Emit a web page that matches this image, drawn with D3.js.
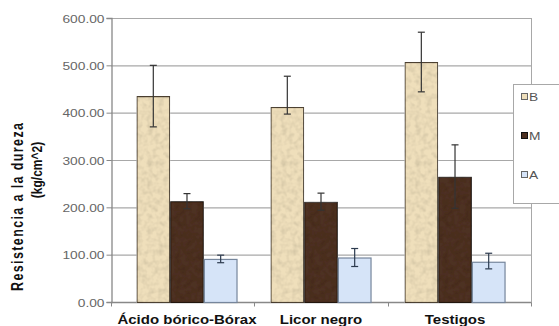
<!DOCTYPE html>
<html>
<head>
<meta charset="utf-8">
<script src="https://cdn.jsdelivr.net/npm/d3@7"></script>
<style>
  body { margin: 0; background: #fff; }
  svg { display: block; font-family: "Liberation Sans", Arial, sans-serif; }
</style>
</head>
<body>
<div id="chart"></div>
<script>
// data
const categories = ["Ácido bórico-Bórax", "Licor negro", "Testigos"]
const seriesNames = ["B", "M", "A"]
const valuesB = [435, 412, 507]
const valuesM = [213, 212, 265]
const valuesA = [91, 94, 85]
const errHighB = [500, 477, 570]
const errLowB = [370, 397, 444]
const errHighM = [229, 230, 332]
const errLowM = [197, 194, 198]
const errHighA = [99, 113, 103]
const errLowA = [83, 75, 70]
const yTicks = [0, 100, 200, 300, 400, 500, 600]

const width = 559, height = 326
const plot = {left: 111, right: 531, top: 18, bottom: 302}
const SX = 1.25 // the picture is stretched sideways, text too

const series = {
  B: {values: valuesB, hi: errHighB, lo: errLowB, fill: "#efdfbb", stroke: "#4e4232", tex: true},
  M: {values: valuesM, hi: errHighM, lo: errLowM, fill: "#4d3020", stroke: "#221408", tex: true},
  A: {values: valuesA, hi: errHighA, lo: errLowA, fill: "#d6e4f8", stroke: "#76869c", tex: false}
}

const svg = d3.select('#chart').append('svg')
    .attr('width', width)
    .attr('height', height)

// paper-like texture for the bars
const filt = svg.append('defs').append('filter')
    .attr('id', 'tex')
filt.append('feTurbulence')
    .attr('type', 'fractalNoise')
    .attr('baseFrequency', 0.18)
    .attr('numOctaves', 2)
    .attr('seed', 4)
    .attr('result', 'n')
filt.append('feColorMatrix')
    .attr('in', 'n')
    .attr('type', 'matrix')
    .attr('values', '0.45 0 0 0 0.72  0.45 0 0 0 0.72  0.45 0 0 0 0.72  0 0 0 0 1')
    .attr('result', 'g')
filt.append('feBlend')
    .attr('in', 'SourceGraphic')
    .attr('in2', 'g')
    .attr('mode', 'multiply')
    .attr('result', 'b')
filt.append('feComposite')
    .attr('in', 'b')
    .attr('in2', 'SourceGraphic')
    .attr('operator', 'in')

const y = d3.scaleLinear()
    .domain([0, 600])
    .range([plot.bottom, plot.top])

const x0 = d3.scaleBand()
    .domain(categories)
    .range([plot.left, plot.right])
    .paddingInner(0.246)
    .paddingOuter(0.19)

const x1 = d3.scaleBand()
    .domain(seriesNames)
    .range([0, x0.bandwidth()])

// gridlines
svg.append('g')
    .selectAll('line')
    .data(yTicks)
    .join('line')
    .attr('x1', plot.left)
    .attr('x2', plot.right)
    .attr('y1', d => y(d) + 0.5)
    .attr('y2', d => y(d) + 0.5)
    .attr('stroke', '#a8a8a8')
    .attr('stroke-width', 1.2)

// right border of plot area
svg.append('line')
    .attr('x1', plot.right + 0.5).attr('x2', plot.right + 0.5)
    .attr('y1', plot.top).attr('y2', plot.bottom + 4)
    .attr('stroke', '#a8a8a8')

// y axis
const yAxis = svg.append('g')
    .attr('transform', `translate(${plot.left + 0.5},0)`)
    .call(d3.axisLeft(y).tickValues(yTicks).tickSize(5).tickFormat(d3.format('.2f')))
yAxis.select('.domain').attr('stroke', '#888').attr('stroke-width', 1.3)
yAxis.selectAll('.tick line').attr('stroke', '#888')
yAxis.selectAll('.tick text')
    .attr('x', 0)
    .attr('dy', null)
    .attr('transform', `translate(-7,4) scale(${SX},1)`)
    .attr('fill', '#666')
    .style('font-size', '11px')

// x axis
const xAxis = svg.append('g')
    .attr('transform', `translate(0,${plot.bottom + 0.5})`)
xAxis.append('line')
    .attr('x1', plot.left).attr('x2', plot.right)
    .attr('stroke', '#888').attr('stroke-width', 1.3)
const bounds = [plot.left, ...categories.slice(1).map(c => x0(c) - x0.step() * x0.paddingInner() / 2), plot.right]
xAxis.selectAll('line.tk')
    .data(bounds)
    .join('line')
    .attr('class', 'tk')
    .attr('x1', d => d + 0.5).attr('x2', d => d + 0.5)
    .attr('y1', 0).attr('y2', 4)
    .attr('stroke', '#888')

xAxis.selectAll('text')
    .data(categories)
    .join('text')
    .attr('transform', d => `translate(${x0(d) + x0.bandwidth() / 2},21) scale(${SX},1)`)
    .attr('text-anchor', 'middle')
    .style('font-size', '12px')
    .style('font-weight', 'bold')
    .attr('fill', '#111')
    .text(d => d)

// bars
const groups = svg.append('g')
    .selectAll('g')
    .data(categories)
    .join('g')
    .attr('transform', d => `translate(${x0(d)},0)`)

groups.selectAll('rect')
    .data((c, i) => seriesNames.map(s => ({s, v: series[s].values[i]})))
    .join('rect')
    .attr('x', d => x1(d.s) + 0.5)
    .attr('y', d => y(d.v) + 0.5)
    .attr('width', x1.bandwidth() - 1)
    .attr('height', d => y(0) - y(d.v))
    .attr('fill', d => series[d.s].fill)
    .attr('stroke', d => series[d.s].stroke)
    .attr('stroke-width', 1.2)
    .attr('filter', d => series[d.s].tex ? 'url(#tex)' : null)

// error bars
const err = groups.selectAll('g.err')
    .data((c, i) => seriesNames.map(s => ({s, hi: series[s].hi[i], lo: series[s].lo[i]})))
    .join('g')
    .attr('class', 'err')
    .attr('transform', d => `translate(${x1(d.s) + x1.bandwidth() / 2},0)`)
    .attr('stroke', d => d.s === 'A' ? '#2c3a4e' : '#333')
    .attr('stroke-width', 1.2)
err.append('line')
    .attr('y1', d => y(d.hi)).attr('y2', d => y(d.lo))
err.append('line')
    .attr('x1', -3.5).attr('x2', 3.5)
    .attr('y1', d => y(d.hi)).attr('y2', d => y(d.hi))
err.append('line')
    .attr('x1', -3.5).attr('x2', 3.5)
    .attr('y1', d => y(d.lo)).attr('y2', d => y(d.lo))

// y axis title, two lines
svg.append('text')
    .attr('transform', `translate(23,207) scale(${SX},1) rotate(-90)`)
    .attr('text-anchor', 'middle')
    .attr('textLength', 168)
    .attr('lengthAdjust', 'spacing')
    .style('font-size', '12.5px')
    .style('font-weight', 'bold')
    .attr('fill', '#111')
    .text('Resistencia a la dureza')
svg.append('text')
    .attr('transform', `translate(42,170) scale(${SX},1) rotate(-90)`)
    .attr('text-anchor', 'middle')
    .style('font-size', '12px')
    .style('font-weight', 'bold')
    .attr('fill', '#111')
    .text('(kg/cm^2)')

// legend
const legend = svg.append('g')
legend.append('rect')
    .attr('x', 513.5).attr('y', 84.5)
    .attr('width', 60).attr('height', 119)
    .attr('fill', '#fff')
    .attr('stroke', '#a8a8a8')
const legY = d3.scalePoint()
    .domain(seriesNames)
    .range([97, 175])
const item = legend.selectAll('g.item')
    .data(seriesNames)
    .join('g')
    .attr('class', 'item')
    .attr('transform', d => `translate(521,${legY(d)})`)
item.append('rect')
    .attr('x', 0.5).attr('y', -3.5)
    .attr('width', 6).attr('height', 6)
    .attr('fill', d => series[d].fill)
    .attr('stroke', d => d === 'M' ? '#111' : '#666')
item.append('text')
    .attr('transform', `translate(8,4) scale(${SX},1)`)
    .style('font-size', '11px')
    .attr('fill', '#555')
    .text(d => d)
</script>
</body>
</html>
